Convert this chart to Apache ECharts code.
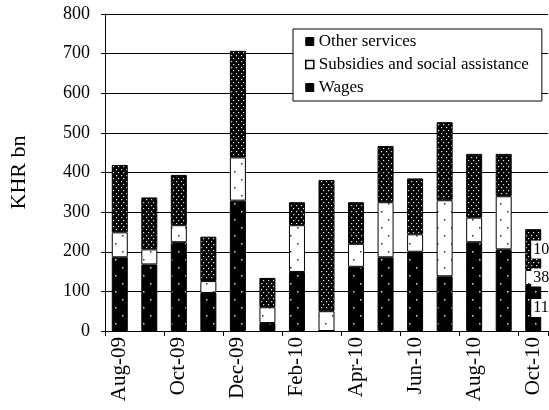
<!DOCTYPE html>
<html>
<head>
<meta charset="utf-8">
<script src="https://cdn.jsdelivr.net/npm/echarts@6/dist/echarts.min.js"></script>
<style>
  html, body { margin: 0; padding: 0; background: #fff; }
  #chart { width: 549px; height: 410px; }
</style>
</head>
<body>
<div id="chart"></div>
<script>
// months shown on the x axis (every other one is labelled)
var months = ['Aug-09', 'Sep-09', 'Oct-09', 'Nov-09', 'Dec-09', 'Jan-10', 'Feb-10', 'Mar-10',
              'Apr-10', 'May-10', 'Jun-10', 'Jul-10', 'Aug-10', 'Sep-10', 'Oct-10'];
// KHR bn
var wages     = [186, 168, 224, 96, 329, 20, 149, 0, 162, 186, 200, 138, 224, 206, 116];
var subsidies = [63, 38, 43, 30, 109, 40, 118, 50, 58, 139, 44, 192, 62, 134, 38];
var other     = [170, 131, 127, 112, 269, 74, 58, 331, 105, 142, 141, 197, 161, 107, 103];

var serif = '"Liberation Serif", "Times New Roman", serif';

// little dotted fills, like the old excel patterns
function dots(w, h, bg, fg, pts, r) {
    var c = document.createElement('canvas');
    c.width = w; c.height = h;
    var ctx = c.getContext('2d');
    ctx.fillStyle = bg;
    ctx.fillRect(0, 0, w, h);
    ctx.fillStyle = fg;
    pts.forEach(function (p) {
        ctx.fillRect(p[0], p[1], r, r);
    });
    return c;
}
var otherFill = { image: dots(5, 6, '#000', '#e8e8e8', [[1, 1], [3, 4]], 1.2), repeat: 'repeat' };
var subsFill  = { image: dots(14, 16, '#fff', '#333', [[3, 3], [10, 11]], 1.5), repeat: 'repeat' };
var wagesFill = { image: dots(14, 16, '#000', '#ddd', [[3, 3], [10, 11]], 1.5), repeat: 'repeat' };

// only the last bar (Oct-10) gets value labels
function withLastLabel(arr) {
    return arr.map(function (v, i) {
        if (i !== arr.length - 1) return v;
        return {
            value: v,
            label: {
                show: true,
                position: 'inside',
                align: 'left',
                offset: [-2, 0],
                color: '#000',
                fontFamily: serif,
                fontSize: 16,
                backgroundColor: '#fff',
                padding: [1, 2]
            }
        };
    });
}

var chart = echarts.init(document.getElementById('chart'));

var option = {
    animation: false,
    backgroundColor: '#fff',
    textStyle: { fontFamily: serif },
    grid: { left: 102, right: 1, top: 14, bottom: 79 },
    legend: {
        orient: 'vertical',
        left: 293,
        top: 29,
        backgroundColor: '#fff',
        borderColor: '#000',
        borderWidth: 1,
        borderRadius: 0,
        padding: [4, 13, 5, 12],
        itemGap: 6,
        itemWidth: 8,
        itemHeight: 8,
        textStyle: { fontFamily: serif, fontSize: 17, color: '#000' },
        data: [
            { name: 'Other services', icon: 'rect', itemStyle: { color: '#000', borderColor: '#000', borderWidth: 1 } },
            { name: 'Subsidies and social assistance', icon: 'rect', itemStyle: { color: '#fff', borderColor: '#000', borderWidth: 1.5 } },
            { name: 'Wages', icon: 'rect', itemStyle: { color: '#000', borderColor: '#000', borderWidth: 1 } }
        ]
    },
    xAxis: {
        type: 'category',
        data: months,
        boundaryGap: true,
        axisLine: { lineStyle: { color: '#000', width: 1 } },
        axisTick: { show: true, interval: 1, length: 5, lineStyle: { color: '#000' } },
        axisLabel: {
            interval: 1,
            rotate: 90,
            margin: 6,
            color: '#000',
            fontFamily: serif,
            fontSize: 21
        },
        splitLine: { show: false }
    },
    yAxis: {
        type: 'value',
        min: 0,
        max: 800,
        interval: 100,
        name: 'KHR bn',
        nameLocation: 'middle',
        nameGap: 75,
        nameTextStyle: { fontFamily: serif, fontSize: 22, color: '#000' },
        axisLine: { show: true, lineStyle: { color: '#000', width: 1 } },
        axisTick: { show: true, length: 4, lineStyle: { color: '#000' } },
        axisLabel: { color: '#000', fontFamily: serif, fontSize: 18, margin: 15 },
        splitLine: { show: true, lineStyle: { color: '#000', width: 1 } }
    },
    series: [
        {
            name: 'Wages',
            type: 'bar',
            stack: 'total',
            barWidth: 16,
            itemStyle: { color: wagesFill, borderColor: '#000', borderWidth: 1 },
            data: withLastLabel(wages)
        },
        {
            name: 'Subsidies and social assistance',
            type: 'bar',
            stack: 'total',
            barWidth: 16,
            itemStyle: { color: subsFill, borderColor: '#000', borderWidth: 1 },
            data: withLastLabel(subsidies)
        },
        {
            name: 'Other services',
            type: 'bar',
            stack: 'total',
            barWidth: 16,
            itemStyle: { color: otherFill, borderColor: '#000', borderWidth: 1 },
            data: withLastLabel(other)
        }
    ]
};

chart.setOption(option);
</script>
</body>
</html>
